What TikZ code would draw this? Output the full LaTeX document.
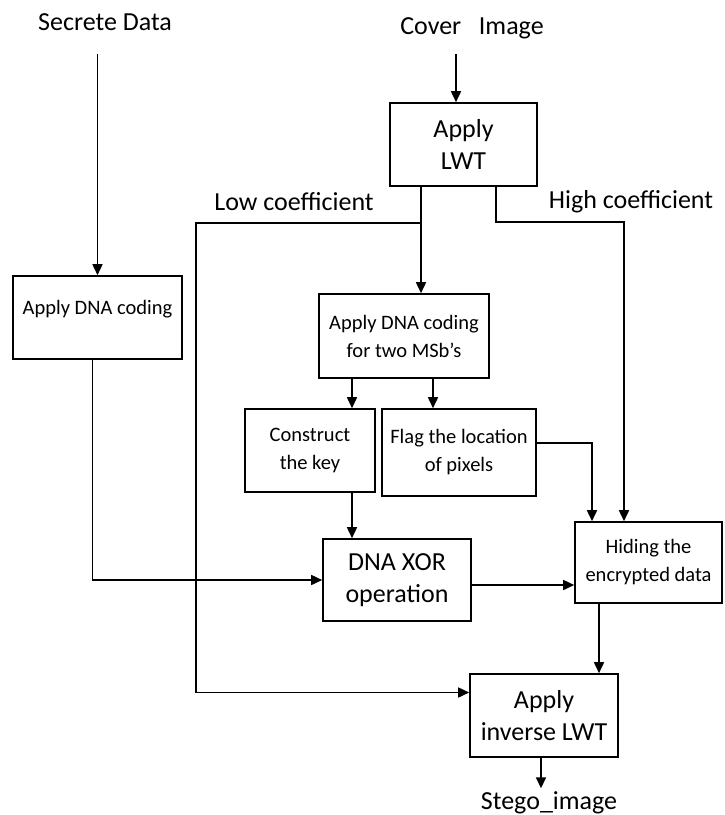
\documentclass[tikz,border=0pt]{standalone}
\usepackage{fontspec}
\setmainfont{Carlito}
\usepackage{xcolor}
\usepackage{tikz}
\usetikzlibrary{arrows.meta}

\begin{document}
\begin{tikzpicture}[x=1pt, y=-1pt,
  big/.style={font=\fontsize{26}{32}\selectfont},
  small/.style={font=\fontsize{20.5}{28}\selectfont},
  box/.style={draw, line width=1.6pt, inner sep=0pt, align=center},
  arr/.style={line width=1.6pt, -{Triangle[length=11pt, width=10pt]}}]
\useasboundingbox (0,0) rectangle (724,815);
% inputs and labels
\node[big] (secret) at (105,22) {Secrete Data};
\node[big] (cover) at (472,28) {Cover~~~Image};
\node[big] (low) at (294,202) {Low coefficient};
\node[big] (high) at (631,202) {High coefficient};
\node[big] (stego) at (549,803) {Stego\_image};
% boxes
\node[box, big, minimum width=147pt, minimum height=83pt] (lwt) at (463.5,144.5) {Apply\\LWT};
\node[box, small, minimum width=169pt, minimum height=83pt, text depth=20pt] (dnaL) at (97.5,317.5) {Apply DNA coding};
\node[box, small, minimum width=170pt, minimum height=84pt] (msb) at (404,336) {Apply DNA coding\\for two MSb’s};
\node[box, small, minimum width=130pt, minimum height=83pt] (cons) at (310,450.5) {Construct\\the key};
\node[box, small, minimum width=154pt, minimum height=87pt] (flag) at (459,452.5) {Flag the location\\of pixels};
\node[box, big, minimum width=148pt, minimum height=82pt] (xor) at (397,580) {DNA XOR\\operation};
\node[box, small, minimum width=147pt, minimum height=81pt] (hide) at (648.5,562.5) {Hiding the\\encrypted data};
\node[box, big, minimum width=148pt, minimum height=83pt] (inv) at (544,715.5) {Apply\\inverse LWT};
% bends
\coordinate (lowtap) at (421,223);
\coordinate (lowbend) at (196,223);
\coordinate (highbend) at (624,222);
% connectors
\draw[arr, shorten <=20pt] (secret.south -| dnaL.north) -- (dnaL.north);
\draw[arr, shorten <=12pt] ([xshift=-7.5pt]lwt.north |- cover.south) -- ([xshift=-7.5pt]lwt.north);
\draw[arr] ([xshift=-42.5pt]lwt.south) -- ([xshift=-42.5pt]lwt.south |- msb.north);
\draw[arr] (lowtap) -- (lowbend) |- ([yshift=23pt]inv.west);
\draw[arr] ([xshift=32.5pt]lwt.south) |- (highbend) -- (highbend |- hide.north);
\draw[arr] ([xshift=-52pt]msb.south) -- ([xshift=-52pt]msb.south |- cons.north);
\draw[arr] ([xshift=29pt]msb.south) -- ([xshift=29pt]msb.south |- flag.north);
\draw[arr] ([yshift=9.5pt]flag.east) -| ([xshift=-56.5pt]hide.north);
\draw[arr] ([xshift=42pt]cons.south) -- ([xshift=42pt]cons.south |- xor.north);
\draw[arr] ([xshift=-5pt]dnaL.south) |- (xor.west);
\draw[arr] ([yshift=-5pt]xor.east) -- ([yshift=-5pt]xor.east -| hide.west);
\draw[arr] ([xshift=-49.5pt]hide.south) -- ([xshift=-49.5pt]hide.south |- inv.north);
\draw[arr] ([xshift=-3pt]inv.south) -- ([xshift=-3pt]inv.south |- stego.north);
\end{tikzpicture}
\end{document}
